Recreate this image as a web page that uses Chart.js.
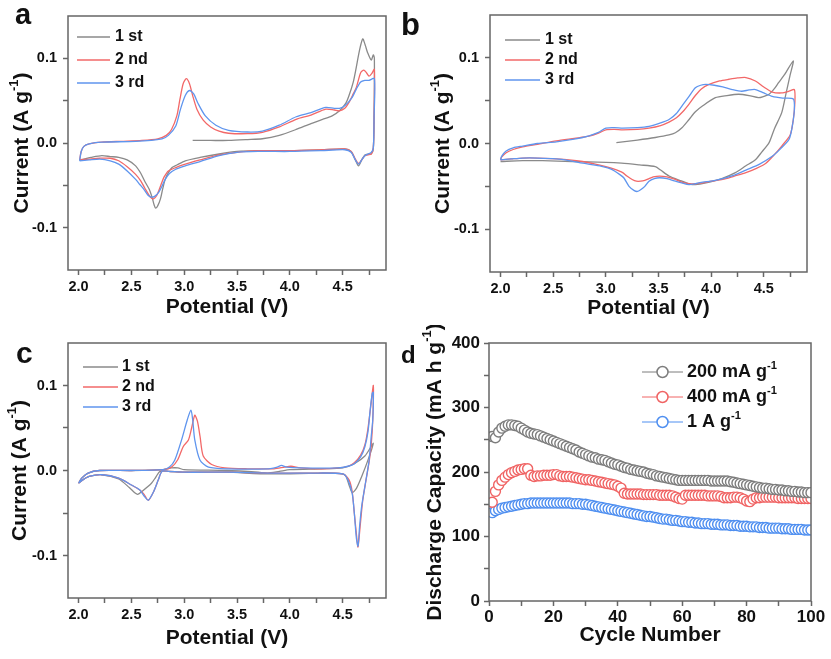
<!DOCTYPE html>
<html lang="en">
<head>
    <meta charset="UTF-8">
    <title>CV curves and discharge capacity</title>
    <script src="https://cdn.jsdelivr.net/npm/chart.js"></script>
    <style>
        body {
            margin: 0;
            background: #fff;
            font-family: Arial, "Liberation Sans", sans-serif;
        }
        #fig {
            position: relative;
            width: 831px;
            height: 659px;
        }
        .panel {
            position: absolute;
        }
        .tag {
            position: absolute;
            font-weight: bold;
            line-height: 1;
            color: #111;
        }
    </style>
</head>
<body>
    <div id="fig">
        <div class="panel" style="left:0;top:0;width:415px;height:325px"><canvas id="chartA"></canvas></div>
        <div class="panel" style="left:420px;top:0;width:411px;height:325px"><canvas id="chartB"></canvas></div>
        <div class="panel" style="left:0;top:325px;width:415px;height:334px"><canvas id="chartC"></canvas></div>
        <div class="panel" style="left:420px;top:325px;width:411px;height:334px"><canvas id="chartD"></canvas></div>
        <div class="tag" style="left:15px;top:0px;font-size:29px">a</div>
        <div class="tag" style="left:401px;top:9px;font-size:31px">b</div>
        <div class="tag" style="left:16px;top:338px;font-size:30px">c</div>
        <div class="tag" style="left:401px;top:343px;font-size:24px">d</div>
    </div>

    <script>
        // ---- data ----
        const cycleLabels = ['1 st', '2 nd', '3 rd'];

        // panel a: [potential V, current A/g]
        const aFirst = [
            [3.08,0.003],[3.25,0.003],[3.42,0.003],[3.6,0.004],[3.74,0.005],[3.9,0.009],[4.06,0.016],[4.2,0.023],[4.31,0.028],[4.4,0.032],[4.47,0.038],[4.53,0.047],[4.56,0.056],[4.6,0.072],[4.625,0.087],[4.66,0.11],[4.69,0.123],[4.715,0.115],[4.735,0.107],[4.77,0.098],[4.79,0.104],[4.8,0.1],
            [4.797,0.03],[4.79,-0.006],[4.77,-0.013],[4.74,-0.013],[4.71,-0.014],[4.68,-0.02],[4.65,-0.027],[4.62,-0.02],[4.58,-0.01],[4.52,-0.007],[4.3,-0.008],[4.0,-0.009],[3.7,-0.009],[3.5,-0.01],[3.33,-0.013],[3.15,-0.017],[3.01,-0.021],[2.93,-0.026],[2.885,-0.029],[2.85,-0.035],[2.82,-0.043],[2.795,-0.055],[2.775,-0.066],[2.75,-0.074],[2.73,-0.077],[2.715,-0.073],[2.7,-0.066],[2.67,-0.055],[2.63,-0.046],[2.59,-0.036],[2.54,-0.027],[2.46,-0.02],[2.38,-0.017],[2.3,-0.016],[2.22,-0.015],[2.12,-0.017],[2.05,-0.019],[2.01,-0.02]
        ];
        const aSecond = [
            [2.01,-0.02],[2.025,-0.01],[2.05,-0.004],[2.1,-0.001],[2.22,0.001],[2.4,0.002],[2.6,0.003],[2.75,0.005],[2.83,0.009],[2.88,0.016],[2.93,0.032],[2.96,0.052],[2.99,0.07],[3.02,0.076],[3.05,0.07],[3.08,0.056],[3.12,0.04],[3.18,0.027],[3.25,0.019],[3.33,0.014],[3.42,0.0115],[3.6,0.011],[3.74,0.0126],[3.9,0.019],[4.06,0.028],[4.2,0.033],[4.34,0.04],[4.42,0.039],[4.47,0.038],[4.52,0.041],[4.56,0.048],[4.6,0.058],[4.63,0.066],[4.67,0.083],[4.7,0.086],[4.725,0.083],[4.75,0.079],[4.775,0.082],[4.8,0.087],
            [4.797,0.03],[4.79,-0.006],[4.77,-0.013],[4.74,-0.014],[4.71,-0.015],[4.68,-0.02],[4.65,-0.024],[4.62,-0.019],[4.58,-0.01],[4.52,-0.007],[4.3,-0.008],[4.0,-0.009],[3.7,-0.009],[3.5,-0.011],[3.33,-0.014],[3.15,-0.02],[3.01,-0.025],[2.92,-0.029],[2.85,-0.033],[2.81,-0.04],[2.79,-0.046],[2.76,-0.056],[2.74,-0.062],[2.71,-0.066],[2.68,-0.064],[2.63,-0.054],[2.59,-0.045],[2.54,-0.037],[2.46,-0.028],[2.38,-0.021],[2.3,-0.018],[2.2,-0.018],[2.1,-0.019],[2.01,-0.02]
        ];
        const aThird = [
            [2.01,-0.021],[2.025,-0.01],[2.05,-0.004],[2.1,-0.001],[2.22,0.001],[2.54,0.002],[2.79,0.005],[2.85,0.009],[2.92,0.02],[2.965,0.04],[3.01,0.056],[3.05,0.062],[3.09,0.058],[3.13,0.047],[3.2,0.032],[3.3,0.021],[3.42,0.015],[3.6,0.013],[3.74,0.014],[3.9,0.021],[4.06,0.031],[4.2,0.036],[4.34,0.042],[4.42,0.041],[4.47,0.041],[4.52,0.044],[4.59,0.054],[4.63,0.064],[4.67,0.072],[4.71,0.074],[4.75,0.074],[4.8,0.076],
            [4.797,0.03],[4.79,-0.006],[4.77,-0.011],[4.74,-0.013],[4.71,-0.015],[4.68,-0.02],[4.65,-0.025],[4.62,-0.02],[4.58,-0.011],[4.52,-0.008],[4.3,-0.009],[4.0,-0.01],[3.7,-0.01],[3.5,-0.011],[3.33,-0.015],[3.15,-0.022],[3.01,-0.027],[2.92,-0.031],[2.86,-0.036],[2.82,-0.043],[2.79,-0.051],[2.76,-0.058],[2.72,-0.063],[2.69,-0.064],[2.66,-0.062],[2.62,-0.055],[2.58,-0.049],[2.54,-0.043],[2.46,-0.033],[2.38,-0.025],[2.3,-0.021],[2.2,-0.019],[2.1,-0.02],[2.01,-0.021]
        ];

        // panel b
        const bFirst = [
            [3.1,0.001],[3.3,0.004],[3.47,0.007],[3.6,0.01],[3.66,0.0125],[3.72,0.018],[3.79,0.028],[3.85,0.037],[3.92,0.044],[4.04,0.0535],[4.15,0.056],[4.26,0.0575],[4.36,0.056],[4.45,0.0535],[4.5,0.055],[4.55,0.0575],[4.6,0.064],[4.64,0.071],[4.7,0.081],[4.78,0.0965],
            [4.75,0.08],[4.71,0.058],[4.67,0.036],[4.6,0.017],[4.55,0.001],[4.48,-0.01],[4.42,-0.019],[4.33,-0.026],[4.23,-0.034],[4.1,-0.041],[3.95,-0.046],[3.85,-0.048],[3.79,-0.047],[3.7,-0.043],[3.6,-0.038],[3.52,-0.031],[3.47,-0.027],[3.32,-0.025],[3.15,-0.023],[3.0,-0.022],[2.68,-0.021],[2.4,-0.02],[2.21,-0.02],[2.0,-0.021]
        ];
        const bSecond = [
            [2.0,-0.019],[2.01,-0.016],[2.05,-0.011],[2.12,-0.007],[2.21,-0.004],[2.35,-0.001],[2.53,0.003],[2.7,0.006],[2.84,0.0085],[2.93,0.012],[3.0,0.016],[3.08,0.0165],[3.16,0.016],[3.3,0.0165],[3.41,0.018],[3.52,0.021],[3.6,0.025],[3.67,0.03],[3.73,0.037],[3.79,0.046],[3.85,0.056],[3.91,0.064],[3.98,0.069],[4.08,0.073],[4.17,0.075],[4.25,0.0765],[4.33,0.077],[4.42,0.073],[4.5,0.066],[4.58,0.06],[4.67,0.059],[4.74,0.061],[4.79,0.063],
            [4.795,0.048],[4.78,0.028],[4.75,0.01],[4.67,-0.003],[4.6,-0.013],[4.52,-0.023],[4.43,-0.029],[4.33,-0.034],[4.22,-0.038],[4.11,-0.042],[4.0,-0.044],[3.92,-0.046],[3.85,-0.047],[3.79,-0.047],[3.72,-0.045],[3.66,-0.042],[3.58,-0.039],[3.51,-0.038],[3.45,-0.039],[3.41,-0.041],[3.37,-0.043],[3.33,-0.044],[3.29,-0.044],[3.25,-0.042],[3.2,-0.038],[3.16,-0.034],[3.08,-0.03],[3.0,-0.027],[2.9,-0.024],[2.78,-0.021],[2.65,-0.019],[2.53,-0.018],[2.35,-0.017],[2.21,-0.017],[2.1,-0.018],[2.0,-0.019]
        ];
        const bThird = [
            [2.0,-0.019],[2.01,-0.015],[2.05,-0.009],[2.12,-0.005],[2.21,-0.003],[2.35,0.0],[2.53,0.002],[2.7,0.005],[2.84,0.009],[2.93,0.013],[3.0,0.018],[3.08,0.0185],[3.16,0.018],[3.3,0.0185],[3.41,0.02],[3.52,0.024],[3.6,0.028],[3.67,0.035],[3.73,0.045],[3.79,0.055],[3.85,0.065],[3.9,0.068],[3.95,0.069],[4.03,0.068],[4.11,0.066],[4.2,0.063],[4.29,0.061],[4.36,0.0625],[4.42,0.063],[4.5,0.059],[4.58,0.055],[4.68,0.053],[4.78,0.052],
            [4.79,0.04],[4.77,0.02],[4.74,0.005],[4.66,-0.006],[4.58,-0.015],[4.46,-0.024],[4.33,-0.031],[4.22,-0.037],[4.11,-0.041],[4.0,-0.044],[3.92,-0.045],[3.85,-0.047],[3.79,-0.048],[3.72,-0.046],[3.66,-0.044],[3.58,-0.041],[3.51,-0.04],[3.46,-0.041],[3.41,-0.044],[3.37,-0.05],[3.33,-0.054],[3.3,-0.056],[3.27,-0.055],[3.22,-0.05],[3.17,-0.04],[3.13,-0.036],[3.05,-0.03],[2.97,-0.027],[2.88,-0.025],[2.78,-0.023],[2.65,-0.02],[2.53,-0.018],[2.35,-0.017],[2.21,-0.017],[2.1,-0.018],[2.0,-0.019]
        ];

        // panel c
        const cFirst = [
            [2.0,-0.015],[2.03,-0.009],[2.09,-0.003],[2.2,0.0],[2.5,0.0],[2.8,0.001],[2.88,0.003],[2.94,0.003],[3.0,0.001],[3.4,0.0],[3.7,-0.002],[3.79,-0.003],[3.9,-0.001],[4.0,0.001],[4.3,0.002],[4.5,0.003],[4.61,0.008],[4.71,0.017],[4.79,0.032],
            [4.74,0.0125],[4.68,-0.007],[4.63,-0.021],[4.59,-0.026],[4.56,-0.017],[4.52,-0.005],[4.4,-0.003],[3.8,-0.004],[3.4,-0.002],[3.0,-0.002],[2.85,-0.001],[2.77,-0.001],[2.73,-0.008],[2.69,-0.015],[2.6,-0.0246],[2.56,-0.028],[2.535,-0.0265],[2.48,-0.02],[2.38,-0.01],[2.22,-0.005],[2.1,-0.007],[2.04,-0.011],[2.0,-0.015]
        ];
        const cSecond = [
            [2.0,-0.015],[2.03,-0.009],[2.09,-0.003],[2.2,0.0],[2.5,0.0],[2.8,0.001],[2.88,0.004],[2.94,0.013],[2.99,0.028],[3.04,0.036],[3.07,0.05],[3.1,0.065],[3.125,0.058],[3.15,0.04],[3.18,0.017],[3.26,0.007],[3.385,0.003],[3.6,0.002],[3.85,0.002],[3.95,0.004],[4.01,0.005],[4.1,0.003],[4.3,0.002],[4.455,0.003],[4.55,0.005],[4.61,0.009],[4.67,0.018],[4.71,0.03],[4.74,0.05],[4.77,0.08],[4.79,0.1],
            [4.785,0.06],[4.77,0.03],[4.75,0.01],[4.72,-0.012],[4.69,-0.035],[4.665,-0.066],[4.645,-0.09],[4.63,-0.075],[4.61,-0.05],[4.59,-0.025],[4.56,-0.011],[4.5,-0.004],[4.2,-0.003],[3.8,-0.003],[3.4,-0.002],[3.0,-0.002],[2.85,-0.001],[2.79,-0.001],[2.755,-0.011],[2.71,-0.025],[2.66,-0.035],[2.62,-0.028],[2.58,-0.023],[2.5,-0.017],[2.38,-0.009],[2.22,-0.005],[2.1,-0.007],[2.04,-0.011],[2.0,-0.015]
        ];
        const cThird = [
            [2.0,-0.015],[2.03,-0.009],[2.09,-0.003],[2.2,0.0],[2.5,0.0],[2.8,0.001],[2.86,0.004],[2.91,0.012],[2.975,0.036],[3.03,0.06],[3.064,0.071],[3.08,0.06],[3.1,0.036],[3.15,0.012],[3.23,0.004],[3.4,0.002],[3.8,0.002],[3.88,0.004],[3.92,0.006],[3.97,0.004],[4.1,0.003],[4.455,0.003],[4.55,0.005],[4.61,0.008],[4.67,0.016],[4.71,0.028],[4.74,0.046],[4.76,0.071],[4.78,0.091],[4.79,0.092],
            [4.785,0.06],[4.77,0.04],[4.75,0.012],[4.71,-0.019],[4.68,-0.042],[4.66,-0.066],[4.645,-0.089],[4.63,-0.08],[4.61,-0.05],[4.59,-0.027],[4.55,-0.011],[4.5,-0.004],[4.2,-0.003],[3.8,-0.003],[3.4,-0.002],[3.0,-0.002],[2.85,-0.001],[2.79,-0.001],[2.755,-0.011],[2.71,-0.025],[2.66,-0.035],[2.62,-0.03],[2.58,-0.023],[2.5,-0.017],[2.38,-0.009],[2.22,-0.005],[2.1,-0.007],[2.04,-0.011],[2.0,-0.015]
        ];

        // panel d: discharge capacity (mA h g-1) per cycle
        const rateLabels = ['200 mA g^{-1}', '400 mA g^{-1}', '1 A g^{-1}'];
        const cycles = Array.from({ length: 100 }, (_, i) => i + 1);
        const cap200 = [
            255, 253, 262, 268, 271, 273, 273, 272, 271, 268,
            265, 262, 260, 259, 258, 256, 254, 252, 250, 248,
            246, 244, 242, 240, 238, 236, 234, 231, 229, 227,
            225, 223, 222, 220, 219, 218, 216, 214, 212, 211,
            209, 207, 206, 204, 203, 202, 201, 200, 198, 197,
            196, 194, 193, 192, 191, 190, 189, 188, 187, 187,
            187, 187, 187, 187, 187, 187, 187, 187, 186, 186,
            186, 186, 186, 186, 185, 184, 183, 182, 181, 180,
            179, 178, 177, 176, 175, 175, 174, 173, 173, 172,
            172, 171, 171, 170, 170, 169, 169, 168, 168, 168
        ];
        const cap400 = [
            153, 170, 180, 187, 192, 196, 199, 201, 203, 204,
            205, 205, 195, 193, 194, 194, 195, 195, 195, 196,
            196, 194, 193, 193, 193, 192, 191, 190, 189, 188,
            188, 187, 186, 185, 184, 183, 182, 181, 180, 178,
            175, 167, 166, 166, 166, 166, 166, 165, 165, 165,
            165, 165, 164, 164, 164, 164, 163, 161, 159, 158,
            164, 164, 164, 164, 164, 164, 164, 163, 163, 163,
            163, 162, 160, 160, 160, 161, 161, 160, 158, 155,
            154, 158, 160, 160, 161, 161, 161, 161, 161, 160,
            160, 160, 160, 160, 160, 159, 159, 159, 159, 159
        ];
        const cap1A = [
            137, 140, 142, 144, 145, 146, 147, 148, 149, 150,
            151, 151, 152, 152, 152, 152, 152, 152, 152, 152,
            152, 152, 152, 152, 152, 151, 151, 151, 150, 150,
            149, 148, 147, 146, 145, 144, 143, 142, 141, 140,
            139, 138, 137, 136, 135, 134, 133, 132, 131, 131,
            130, 129, 128, 127, 127, 126, 125, 125, 124, 123,
            123, 122, 122, 121, 121, 120, 120, 120, 119, 119,
            119, 118, 118, 118, 117, 117, 117, 116, 116, 116,
            115, 115, 115, 114, 114, 114, 113, 113, 113, 113,
            112, 112, 112, 111, 111, 111, 111, 110, 110, 110
        ];

        // ticks
        const cvXTicks = [2.0, 2.25, 2.5, 2.75, 3.0, 3.25, 3.5, 3.75, 4.0, 4.25, 4.5, 4.75];
        const cvXMajor = [2.0, 2.5, 3.0, 3.5, 4.0, 4.5];
        const cvYTicks = [-0.1, -0.05, 0, 0.05, 0.1];
        const cvYMajor = [-0.1, 0, 0.1];
        const capXTicks = [0, 10, 20, 30, 40, 50, 60, 70, 80, 90, 100];
        const capXMajor = [0, 20, 40, 60, 80, 100];
        const capYTicks = [0, 50, 100, 150, 200, 250, 300, 350, 400];
        const capYMajor = [0, 100, 200, 300, 400];

        const fontFam = 'Arial, "Liberation Sans", sans-serif';
        const colors = ['#8a8a8a', '#f26868', '#5f95ee'];
        const dotColors = ['#7d7d7d', '#f06464', '#4f8ff0'];

        // draws text, parts written as ^{..} become superscript
        function richText(ctx, text, x, y, size, align) {
            const parts = text.split(/\^\{|\}/);
            const supSize = size * 0.62;
            const fontOf = i => `bold ${i % 2 ? supSize : size}px ${fontFam}`;
            let w = 0;
            parts.forEach((p, i) => { ctx.font = fontOf(i); w += ctx.measureText(p).width; });
            let cx = align === 'left' ? x : x - w / 2;
            ctx.textAlign = 'left';
            ctx.textBaseline = 'middle';
            parts.forEach((p, i) => {
                ctx.font = fontOf(i);
                ctx.fillText(p, cx, i % 2 ? y - size * 0.36 : y);
                cx += ctx.measureText(p).width;
            });
        }

        // frame, axis titles and the legend inside the plot
        const decor = {
            id: 'decor',
            afterDraw(chart, args, o) {
                const ctx = chart.ctx;
                const a = chart.chartArea;
                ctx.save();
                ctx.strokeStyle = '#666';
                ctx.lineWidth = 1.5;
                ctx.strokeRect(a.left, a.top, a.right - a.left, a.bottom - a.top);

                ctx.fillStyle = '#111';
                richText(ctx, o.xTitle, (a.left + a.right) / 2, o.xTitleY, 21);
                ctx.save();
                ctx.translate(o.yTitleX, (a.top + a.bottom) / 2);
                ctx.rotate(-Math.PI / 2);
                richText(ctx, o.yTitle, 0, 0, 21);
                ctx.restore();

                chart.data.datasets.forEach((ds, i) => {
                    const y = o.legendY[i];
                    const [x0, x1, tx] = o.legendX;
                    ctx.strokeStyle = ds.borderColor;
                    ctx.lineWidth = o.marker ? 1 : 1.5;
                    ctx.beginPath();
                    ctx.moveTo(x0, y);
                    ctx.lineTo(x1, y);
                    ctx.stroke();
                    if (o.marker) {
                        ctx.fillStyle = '#fff';
                        ctx.lineWidth = 1.5;
                        ctx.beginPath();
                        ctx.arc((x0 + x1) / 2, y, 5.5, 0, Math.PI * 2);
                        ctx.fill();
                        ctx.stroke();
                    }
                    ctx.fillStyle = '#111';
                    richText(ctx, ds.label, tx, y, o.legendSize, 'left');
                });
                ctx.restore();
            }
        };
        Chart.register(decor);

        function axis(min, max, tickVals, majors, digits, fit, isX, pad, size) {
            return {
                type: 'linear',
                min: min,
                max: max,
                border: { display: false },
                grid: { drawOnChartArea: false, tickLength: 5, tickWidth: 1.5, tickColor: '#666' },
                ticks: {
                    padding: pad,
                    autoSkip: false,
                    maxRotation: 0,
                    color: '#111',
                    font: { family: fontFam, size: size, weight: 'bold' },
                    callback: v => majors.includes(v) ? v.toFixed(digits) : ''
                },
                afterBuildTicks: s => { s.ticks = tickVals.map(v => ({ value: v })); },
                afterFit: s => { if (isX) s.height = fit; else s.width = fit; }
            };
        }

        function cvChart(id, series, lay) {
            const datasets = series.map((pts, i) => ({
                label: cycleLabels[i],
                data: pts.map(([x, y]) => ({ x: x, y: y })),
                borderColor: colors[i],
                borderWidth: 1.3,
                pointRadius: 0,
                showLine: true,
                tension: 0.25,
                order: 2 - i
            }));
            return new Chart(document.getElementById(id), {
                type: 'scatter',
                data: { datasets: datasets },
                options: {
                    responsive: true,
                    maintainAspectRatio: false,
                    animation: false,
                    layout: { padding: { left: 0, top: lay.top, right: lay.right, bottom: 0 } },
                    scales: {
                        x: axis(1.9, 4.91, cvXTicks, cvXMajor, 1, lay.xH, true, 3, 14.5),
                        y: axis(-0.15, 0.15, cvYTicks, cvYMajor, 1, lay.yW, false, 6, 14.5)
                    },
                    plugins: {
                        legend: { display: false },
                        tooltip: { enabled: false },
                        decor: {
                            xTitle: 'Potential (V)',
                            yTitle: 'Current (A g^{-1})',
                            xTitleY: lay.xTitleY,
                            yTitleX: lay.yTitleX,
                            legendX: lay.legendX,
                            legendY: lay.legendY,
                            legendSize: 16,
                            marker: false
                        }
                    }
                }
            });
        }

        cvChart('chartA', [aFirst, aSecond, aThird], {
            top: 16, right: 29, xH: 55, yW: 68, xTitleY: 307, yTitleX: 22,
            legendX: [77, 110, 115], legendY: [37, 60, 83]
        });
        cvChart('chartB', [bFirst, bSecond, bThird], {
            top: 15, right: 24, xH: 53, yW: 70, xTitleY: 308, yTitleX: 23,
            legendX: [85, 120, 125], legendY: [40, 60, 80]
        });
        cvChart('chartC', [cFirst, cSecond, cThird], {
            top: 18, right: 29, xH: 61, yW: 68, xTitleY: 313, yTitleX: 20,
            legendX: [83, 118, 122], legendY: [42, 62, 82]
        });

        // panel d
        const capSeries = [cap200, cap400, cap1A];
        new Chart(document.getElementById('chartD'), {
            type: 'scatter',
            data: {
                datasets: capSeries.map((vals, i) => ({
                    label: rateLabels[i],
                    data: vals.map((v, k) => ({ x: cycles[k], y: v })),
                    borderColor: dotColors[i],
                    pointBorderColor: dotColors[i],
                    pointBackgroundColor: '#fff',
                    pointRadius: 5,
                    pointBorderWidth: 1.4
                }))
            },
            options: {
                responsive: true,
                maintainAspectRatio: false,
                animation: false,
                layout: { padding: { left: 0, top: 18, right: 20, bottom: 0 } },
                scales: {
                    x: axis(0, 100, capXTicks, capXMajor, 0, 58, true, 1, 17),
                    y: axis(0, 400, capYTicks, capYMajor, 0, 69, false, 4, 17)
                },
                plugins: {
                    legend: { display: false },
                    tooltip: { enabled: false },
                    decor: {
                        xTitle: 'Cycle Number',
                        yTitle: 'Discharge Capacity (mA h g^{-1})',
                        xTitleY: 310,
                        yTitleX: 15,
                        legendX: [222, 263, 267],
                        legendY: [47, 72, 97],
                        legendSize: 18,
                        marker: true
                    }
                }
            }
        });
    </script>
</body>
</html>
